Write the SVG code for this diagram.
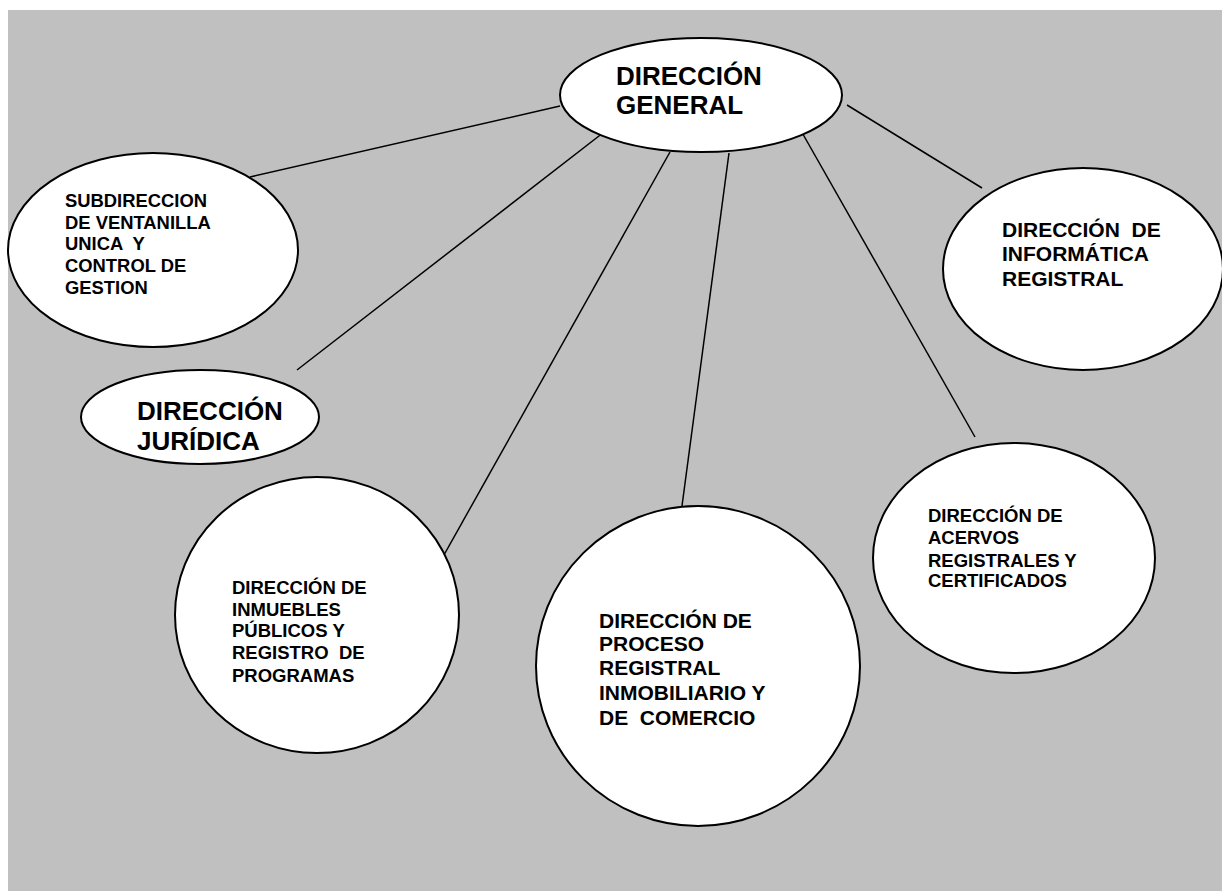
<svg xmlns="http://www.w3.org/2000/svg" width="1222" height="891" viewBox="0 0 1222 891">
<style>
.node{fill:#ffffff;stroke:#000000;stroke-width:2}
.lbl{font-family:"Liberation Sans",Arial,sans-serif;font-weight:bold;fill:#000000;white-space:pre}
.conn line{stroke:#000000;stroke-width:1.5}
</style>
<rect x="0" y="0" width="1222" height="891" fill="#ffffff"/>
<rect x="8" y="10" width="1214" height="881" fill="#c0c0c0"/>
<g class="conn" id="connectors">
<line x1="560" y1="106" x2="250" y2="177"/>
<line x1="608" y1="129" x2="297" y2="370"/>
<line x1="670" y1="152" x2="440" y2="562"/>
<line x1="729" y1="153" x2="682" y2="506"/>
<line x1="800" y1="129" x2="975" y2="437"/>
<line x1="847" y1="105" x2="982" y2="188"/>
</g>
<g id="n-general">
<ellipse class="node" cx="701" cy="95" rx="141" ry="57"/>
<text class="lbl" font-size="26" x="616" y="85">DIRECCIÓN</text>
<text class="lbl" font-size="26" x="616" y="114">GENERAL</text>
</g>
<g id="n-subdireccion">
<ellipse class="node" cx="153" cy="250" rx="145" ry="97"/>
<text class="lbl" font-size="18.4" x="65" y="207">SUBDIRECCION</text>
<text class="lbl" font-size="18.4" x="65" y="229">DE VENTANILLA</text>
<text class="lbl" font-size="18.4" x="65" y="250">UNICA  Y</text>
<text class="lbl" font-size="18.4" x="65" y="272">CONTROL DE</text>
<text class="lbl" font-size="18.4" x="65" y="294">GESTION</text>
</g>
<g id="n-juridica">
<ellipse class="node" cx="200" cy="417" rx="119" ry="47"/>
<text class="lbl" font-size="26" x="137" y="420">DIRECCIÓN</text>
<text class="lbl" font-size="26" x="137" y="450">JURÍDICA</text>
</g>
<g id="n-informatica">
<ellipse class="node" cx="1083" cy="269" rx="140" ry="101"/>
<text class="lbl" font-size="21" x="1002" y="237">DIRECCIÓN  DE</text>
<text class="lbl" font-size="21" x="1002" y="261">INFORMÁTICA</text>
<text class="lbl" font-size="21" x="1002" y="286">REGISTRAL</text>
</g>
<g id="n-inmuebles">
<ellipse class="node" cx="317" cy="615" rx="142" ry="138"/>
<text class="lbl" font-size="18.5" x="232" y="594">DIRECCIÓN DE</text>
<text class="lbl" font-size="18.5" x="232" y="616">INMUEBLES</text>
<text class="lbl" font-size="18.5" x="232" y="637">PÚBLICOS Y</text>
<text class="lbl" font-size="18.5" x="232" y="659">REGISTRO  DE</text>
<text class="lbl" font-size="18.5" x="232" y="682">PROGRAMAS</text>
</g>
<g id="n-proceso">
<ellipse class="node" cx="698" cy="666" rx="162" ry="160"/>
<text class="lbl" font-size="21" x="599" y="628">DIRECCIÓN DE</text>
<text class="lbl" font-size="21" x="599" y="651">PROCESO</text>
<text class="lbl" font-size="21" x="599" y="675">REGISTRAL</text>
<text class="lbl" font-size="21" x="599" y="700">INMOBILIARIO Y</text>
<text class="lbl" font-size="21" x="599" y="725">DE  COMERCIO</text>
</g>
<g id="n-acervos">
<ellipse class="node" cx="1014" cy="558" rx="141" ry="115"/>
<text class="lbl" font-size="18.5" x="928" y="522">DIRECCIÓN DE</text>
<text class="lbl" font-size="18.5" x="928" y="544">ACERVOS</text>
<text class="lbl" font-size="18.5" x="928" y="567">REGISTRALES Y</text>
<text class="lbl" font-size="18.5" x="928" y="587">CERTIFICADOS</text>
</g>
</svg>
